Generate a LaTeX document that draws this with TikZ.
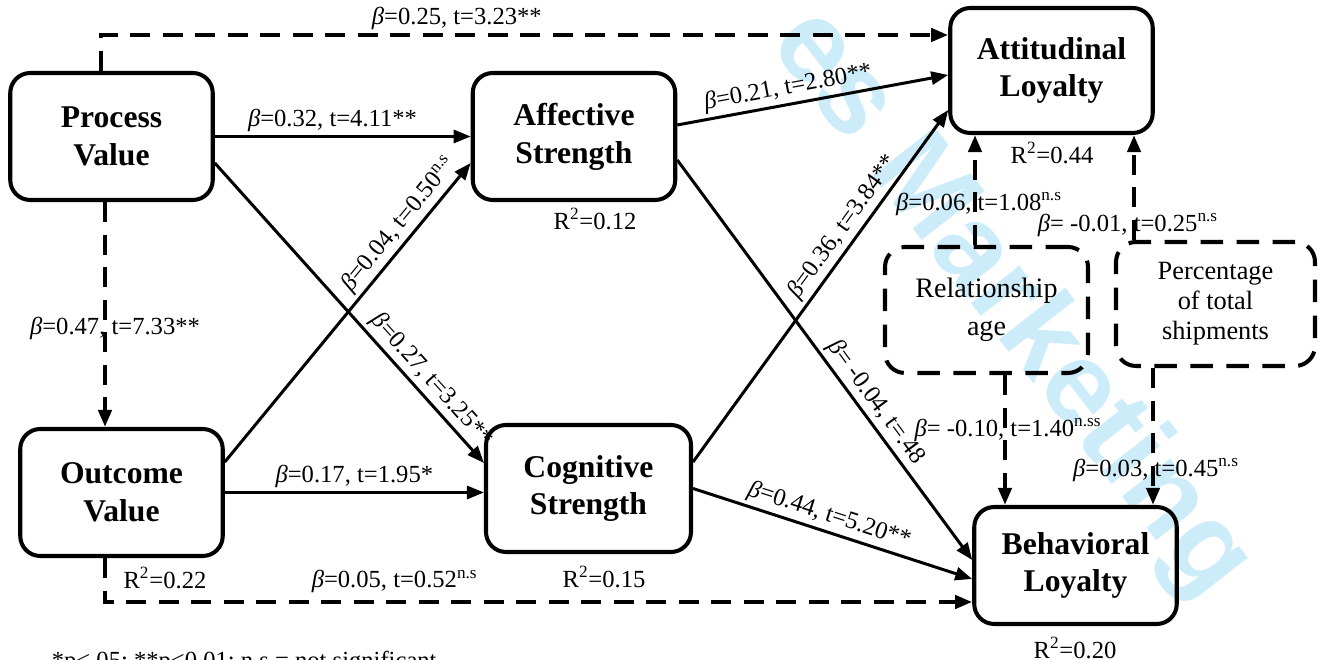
\documentclass[tikz,border=0pt]{standalone}
\usepackage{fontspec}
\setmainfont{Liberation Serif}
\newfontfamily\wmfont{Liberation Sans}
\usetikzlibrary{arrows.meta,calc}
\definecolor{wmblue}{RGB}{205,236,250}
\newcommand{\bet}{\textit{β}}
\newcommand{\nsig}{\textsuperscript{n.s}}
\tikzset{
    box/.style={draw, line width=2.3pt, rounded corners=0.4cm, minimum width=4.05cm, minimum height=2.54cm, align=center, font=\fontsize{18}{21.5}\selectfont\bfseries},
    dbox/.style={draw, line width=2.3pt, rounded corners=0.4cm, dash pattern=on 0.45cm off 0.27cm, align=center},
    arr/.style={line width=1.7pt, -{Triangle[length=0.34cm,width=0.26cm]}},
    darr/.style={arr, line width=2.3pt, dash pattern=on 0.4cm off 0.25cm},
    lbl/.style={font=\fontsize{14}{16}\selectfont, inner sep=2pt},
    wm/.style={text=wmblue, rotate=-52, font=\wmfont\bfseries\fontsize{66}{66}\selectfont},
  }

\begin{document}
\begin{tikzpicture}
				  \useasboundingbox (0,0) rectangle (26.38,13.2);
				  \node[wm] (wm) at (20.2,7.1) {es Marketing};

				  %BOXES
				  \node[box] (PV) at (2.23,10.47) {Process\\Value};
				  \node[box] (AS) at (11.48,10.47) {Affective\\Strength};
				  \node[box, minimum height=2.5cm] (AL) at (21.03,11.79) {Attitudinal\\Loyalty};
				  \node[box] (OV) at (2.43,3.35) {Outcome\\Value};
				  \node[box, minimum width=4.1cm] (CS) at (11.77,3.43) {Cognitive\\Strength};
				  \node[box, minimum height=2.34cm] (BL) at (21.51,1.89) {Behavioral\\Loyalty};

				  %controls
				  \node[dbox, minimum width=4.06cm, minimum height=2.52cm, font=\fontsize{16}{21.5}\selectfont] (RA) at (19.73,7.0) {Relationship\\age};
				  \node[dbox, minimum width=3.98cm, minimum height=2.48cm, font=\fontsize{15}{17}\selectfont] (PT) at (24.31,7.12) {Percentage\\of total\\shipments};

				  %PATHS value -> strength
				  \draw[arr] (PV.east) -- node[lbl, above, pos=0.46] (b1) {\bet=0.32, t=4.11**} (AS.west);
				  \draw[arr] ([yshift=-0.53cm]PV.east) -- node[lbl, sloped, above, pos=0.76] (b2) {\bet=0.27, t=3.25**} ([yshift=0.51cm]CS.west);
				  \draw[arr] ([yshift=0.61cm]OV.east) -- node[lbl, sloped, above, pos=0.76] (b3) {\bet=0.04, t=0.50\nsig} ([yshift=-0.53cm]AS.west);
				  \draw[arr] (OV.east) -- node[lbl, above, pos=0.5] (b4) {\bet=0.17, t=1.95*} (OV.east -| CS.west);

				  %PATHS strength -> loyalty
				  \draw[arr] ([yshift=0.23cm]AS.east) -- node[lbl, sloped, above, pos=0.42] (b5) {\bet=0.21, t=2.80**} ([yshift=-0.09cm]AL.west);
				  \draw[arr] ([yshift=-0.47cm]AS.east) -- node[lbl, sloped, above, pos=0.63] (b6) {\bet= -0.04, t=.48} ([yshift=0.11cm]BL.west);
				  \draw[arr] ([yshift=0.53cm]CS.east) -- node[lbl, sloped, above, pos=0.64] (b7) {\bet=0.36, t=3.84**} ([yshift=-0.79cm]AL.west);
				  \draw[arr] (CS.east) -- node[lbl, sloped, above, pos=0.47] (b8) {\bet=0.44, t=5.20**} ([yshift=-0.27cm]BL.west);

				  %DASHED
				  \draw[darr] ([xshift=-0.21cm]PV.north) |- node[lbl, above, pos=0.71] (b9) {\bet=0.25, t=3.23**} ([yshift=0.71cm]AL.west);
				  \draw[darr] ([xshift=-0.13cm]PV.south) -- node[lbl, pos=0.56, xshift=0.2cm] (b10) {\bet=0.47, t=7.33**} ([xshift=-0.13cm]PV.south |- OV.north);
				  \draw[darr] ([xshift=-0.33cm]OV.south) |- node[lbl, above, pos=0.667, yshift=2pt] (b11) {\bet=0.05, t=0.52\nsig} ([yshift=-0.73cm]BL.west);
				  \draw[darr] ([xshift=-0.23cm]RA.north) -- ([xshift=-0.23cm]RA.north |- AL.south);
				  \draw[darr] ([xshift=-1.63cm]PT.north) -- ([xshift=-1.63cm]PT.north |- AL.south);
				  \draw[darr] ([xshift=0.37cm]RA.south) -- ([xshift=0.37cm]RA.south |- BL.north);
				  \draw[darr] ([xshift=-1.25cm]PT.south) -- ([xshift=-1.25cm]PT.south |- BL.north);
				  \node[lbl] (b12) at (19.58,9.12) {\bet=0.06, t=1.08\nsig};
				  \node[lbl] (b13) at (22.56,8.7) {\bet= -0.01, t=0.25\nsig};
				  \node[lbl] (b14) at (20.16,4.6) {\bet= -0.10, t=1.40\textsuperscript{n.ss}};
				  \node[lbl] (b15) at (23.12,3.8) {\bet=0.03, t=0.45\nsig};

				  %R2
				  \node[lbl] (rAS) at (11.9,8.82) {R\textsuperscript{2}=0.12};
				  \node[lbl] (rOV) at (3.3,1.64) {R\textsuperscript{2}=0.22};
				  \node[lbl] (rCS) at (12.08,1.66) {R\textsuperscript{2}=0.15};
				  \node[lbl] (rAL) at (21.04,10.14) {R\textsuperscript{2}=0.44};
				  \node[lbl] (rBL) at (21.5,0.24) {R\textsuperscript{2}=0.20};

				  \node[lbl, anchor=base west] (note) at (0.96,-0.17) {*p<.05; **p<0.01; n.s = not significant};
\end{tikzpicture}
\end{document}
